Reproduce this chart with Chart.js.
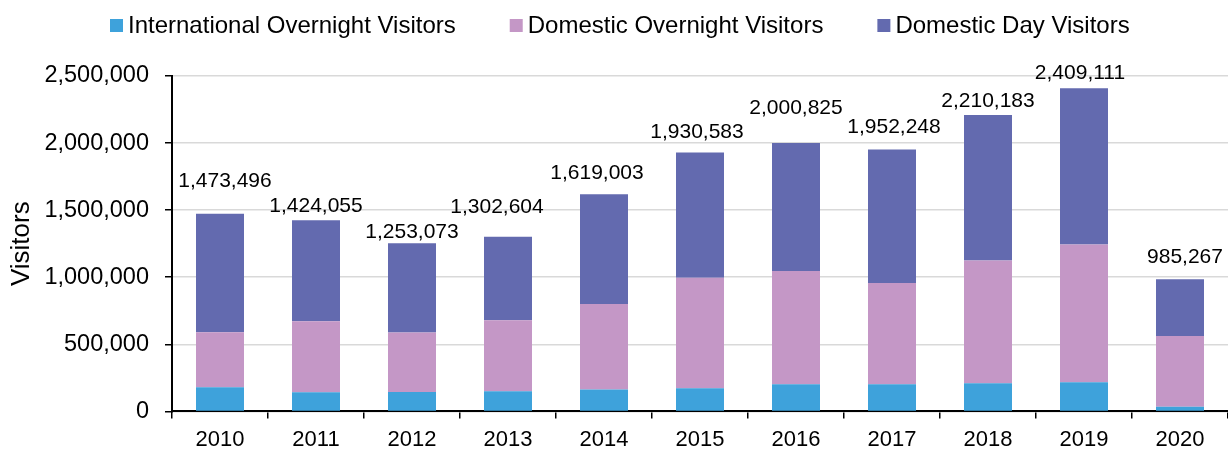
<!DOCTYPE html>
<html>
<head>
<meta charset="utf-8">
<script src="https://cdn.jsdelivr.net/npm/chart.js@4"></script>
<style>
  html, body { margin: 0; padding: 0; background: #fff; }
  #wrap { width: 1228px; height: 449px; position: relative; }
</style>
</head>
<body>
<div id="wrap"><canvas id="chart1"></canvas></div>
<script>
var years = ['2010', '2011', '2012', '2013', '2014', '2015', '2016', '2017', '2018', '2019', '2020'];
var intlOvernight = [180000, 142000, 145000, 150000, 163000, 172000, 202000, 202000, 210000, 217000, 35000];
var domOvernight = [410000, 530000, 443000, 530000, 637000, 825000, 845000, 755000, 914000, 1027000, 527000];
var domDay = [883496, 752055, 665073, 622604, 819003, 933583, 953825, 995248, 1086183, 1165111, 423267];
var seriesNames = ['International Overnight Visitors', 'Domestic Overnight Visitors', 'Domestic Day Visitors'];
var yTicks = [0, 500000, 1000000, 1500000, 2000000, 2500000];

var FONT = "'Liberation Sans', Arial, sans-serif";
var colors = ['#3ea2db', '#c497c6', '#636aaf'];

// nudges for the total labels, as placed in the original
var labelNudge = [[5, -33], [0, -14], [0, -11], [-11, -29], [-7, -21], [-3, -20], [0, -35], [2, -22], [0, -14], [-4, -15], [5, -22]];

var totalsPlugin = {
    id: 'totals',
    afterDatasetsDraw: function(chart) {
        var ctx = chart.ctx;
        var meta = chart.getDatasetMeta(2);
        ctx.save();
        ctx.font = '21px ' + FONT;
        ctx.fillStyle = '#000';
        ctx.textAlign = 'center';
        ctx.textBaseline = 'middle';
        meta.data.forEach(function(bar, i) {
            var total = intlOvernight[i] + domOvernight[i] + domDay[i];
            var n = labelNudge[i];
            ctx.fillText(total.toLocaleString('en-US'), bar.x + n[0], bar.y + n[1]);
        });
        ctx.restore();
    }
};

var legendPlugin = {
    id: 'topLegend',
    afterDraw: function(chart) {
        var ctx = chart.ctx;
        ctx.save();
        ctx.font = '24px ' + FONT;
        ctx.textBaseline = 'middle';
        ctx.textAlign = 'left';
        var x = 110;
        chart.data.datasets.forEach(function(ds) {
            ctx.fillStyle = ds.backgroundColor;
            ctx.fillRect(x, 19, 13, 13);
            ctx.fillStyle = '#000';
            ctx.fillText(ds.label, x + 18, 26);
            x += 18 + ctx.measureText(ds.label).width + 54;
        });
        ctx.restore();
    }
};

var ctx1 = document.getElementById('chart1').getContext('2d');
var chart1 = new Chart(ctx1, {
    type: 'bar',
    data: {
        labels: years,
        datasets: [
            { label: seriesNames[0], data: intlOvernight, backgroundColor: colors[0] },
            { label: seriesNames[1], data: domOvernight, backgroundColor: colors[1] },
            { label: seriesNames[2], data: domDay, backgroundColor: colors[2] }
        ]
    },
    options: {
        responsive: true,
        maintainAspectRatio: false,
        animation: false,
        devicePixelRatio: 1,
        layout: { padding: { top: 76, left: 0, right: 0, bottom: 0 } },
        datasets: { bar: { barPercentage: 1, categoryPercentage: 0.5 } },
        plugins: {
            legend: { display: false },
            tooltip: { enabled: false }
        },
        scales: {
            x: {
                stacked: true,
                grid: { display: true, drawOnChartArea: false, offset: true, color: '#000', tickLength: 7, lineWidth: 1.5 },
                border: { color: '#000', width: 2 },
                ticks: { color: '#000', font: { family: FONT, size: 22 }, padding: 8, maxRotation: 0 },
                afterFit: function(scale) { scale.height = 37.6; }
            },
            y: {
                stacked: true,
                min: 0,
                max: 2500000,
                afterBuildTicks: function(scale) {
                    scale.ticks = yTicks.map(function(v) { return { value: v }; });
                },
                grid: { color: '#d9d9d9', lineWidth: 1.5, tickColor: '#000', tickLength: 7 },
                border: { color: '#000', width: 2 },
                ticks: {
                    color: '#000',
                    font: { family: FONT, size: 23.5 },
                    padding: 16,
                    callback: function(v) { return v.toLocaleString('en-US'); }
                },
                title: {
                    display: true,
                    text: 'Visitors',
                    color: '#000',
                    font: { family: FONT, size: 26 },
                    padding: { top: 6, bottom: 0 }
                },
                afterFit: function(scale) { scale.width = 172; }
            }
        }
    },
    plugins: [totalsPlugin, legendPlugin]
});
</script>
</body>
</html>
